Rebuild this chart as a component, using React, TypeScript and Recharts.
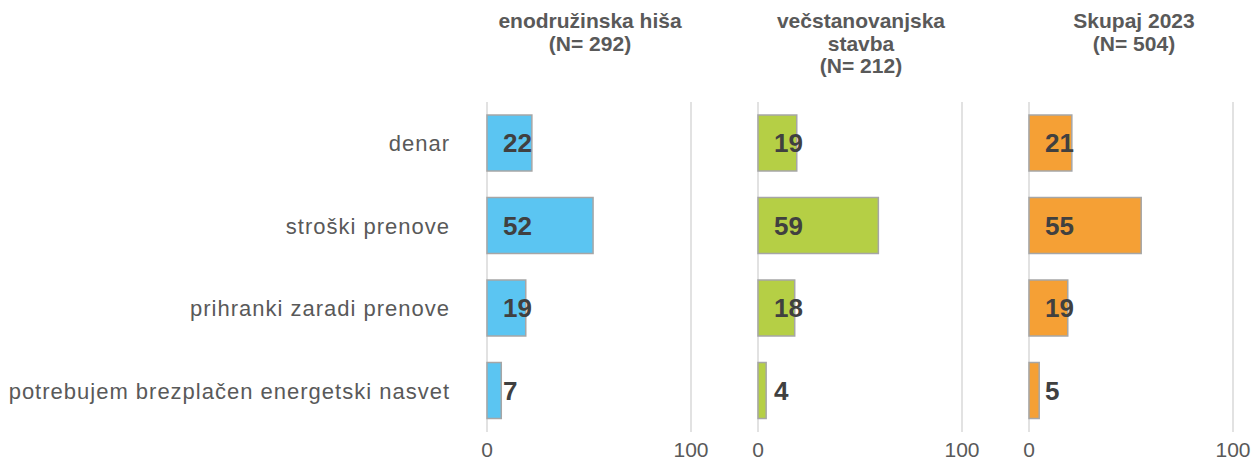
import React from 'react';
import { BarChart, Bar, XAxis, YAxis, CartesianGrid, LabelList } from 'recharts';

const categories = ['denar', 'stroški prenove', 'prihranki zaradi prenove', 'potrebujem brezplačen energetski nasvet'];
const enodruzinska = [22, 52, 19, 7];
const vecstanovanjska = [19, 59, 18, 4];
const skupaj = [21, 55, 19, 5];
const xTicks = [0, 100];
const titles = [
  ['enodružinska hiša', '(N= 292)'],
  ['večstanovanjska', 'stavba', '(N= 212)'],
  ['Skupaj 2023', '(N= 504)'],
];
const colors = ['#5BC5F2', '#B5CF45', '#F5A035'];

const FONT = '"Liberation Sans", Arial, sans-serif';
const H = 462;

const makeData = (vals: number[]) => categories.map((name, i) => ({ name, value: vals[i] }));

const ValueLabel = (props: any) => {
  const { x, y, height, value } = props;
  return (
    <text
      x={x + 16}
      y={y + height / 2}
      dominantBaseline="central"
      textAnchor="start"
      fontFamily={FONT}
      fontWeight="bold"
      fontSize={26}
      fill="#404040"
    >
      {value}
    </text>
  );
};

type PanelProps = {
  vals: number[];
  color: string;
  left: number;
  width: number;
  mLeft: number;
  mRight: number;
  showY: boolean;
};

const Panel = ({ vals, color, left, width, mLeft, mRight, showY }: PanelProps) => (
  <div style={{ position: 'absolute', left, top: 0 }}>
    <BarChart
      width={width}
      height={H}
      data={makeData(vals)}
      layout="vertical"
      margin={{ top: 102, right: mRight, bottom: 0, left: mLeft }}
      barCategoryGap={13}
    >
      <CartesianGrid horizontal={false} vertical={true} stroke="#D9D9D9" strokeWidth={1.5} />
      <XAxis
        type="number"
        domain={[0, 100]}
        ticks={xTicks}
        axisLine={false}
        tickLine={false}
        tickSize={0}
        tickMargin={10}
        height={30}
        tick={{ fill: '#595959', fontSize: 21, fontFamily: FONT }}
        interval={0}
      />
      <YAxis
        type="category"
        dataKey="name"
        hide={!showY}
        width={487}
        axisLine={false}
        tickLine={false}
        tickSize={0}
        tickMargin={37}
        tick={{ fill: '#595959', fontSize: 22, fontFamily: FONT, letterSpacing: 1 }}
        interval={0}
      />
      <Bar dataKey="value" fill={color} stroke="#A6A6A6" strokeWidth={1.5} barSize={56} isAnimationActive={false}>
        <LabelList dataKey="value" content={ValueLabel} />
      </Bar>
    </BarChart>
  </div>
);

const centers = [590, 861, 1134];

export default function App() {
  return (
    <div style={{ position: 'absolute', left: 0, top: 0, width: 1254, height: H, background: '#fff', overflow: 'hidden' }}>
      <Panel vals={enodruzinska} color={colors[0]} left={0} width={720} mLeft={0} mRight={29} showY={true} />
      <Panel vals={vecstanovanjska} color={colors[1]} left={720} width={280} mLeft={38} mRight={38} showY={false} />
      <Panel vals={skupaj} color={colors[2]} left={1000} width={254} mLeft={29} mRight={21} showY={false} />
      {titles.map((lines, i) => (
        <div
          key={i}
          style={{
            position: 'absolute',
            left: centers[i] - 120,
            width: 240,
            top: 10,
            textAlign: 'center',
            fontFamily: FONT,
            fontWeight: 'bold',
            fontSize: 21,
            lineHeight: '22.5px',
            color: '#595959',
          }}
        >
          {lines.map((l, j) => (
            <div key={j}>{l}</div>
          ))}
        </div>
      ))}
    </div>
  );
}
